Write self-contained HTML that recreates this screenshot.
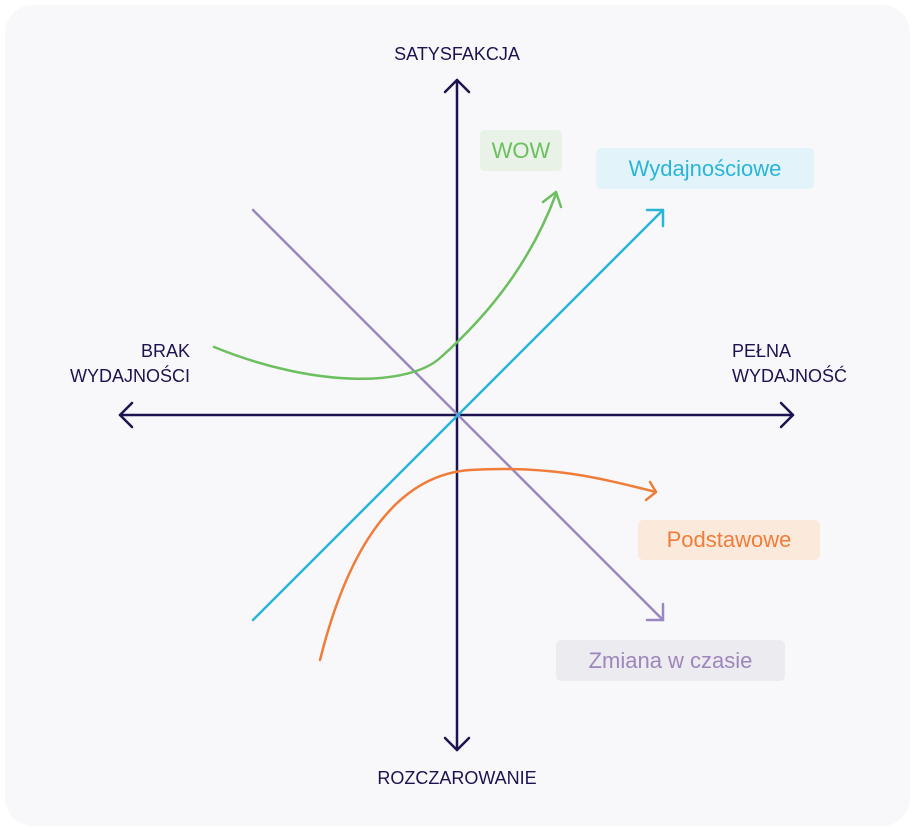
<!DOCTYPE html>
<html><head><style>
html,body{margin:0;padding:0;background:#fff;}
body{width:916px;height:832px;position:relative;overflow:hidden;font-family:"Liberation Sans",sans-serif;}
.card{position:absolute;left:5px;top:5px;width:905px;height:821px;background:#f8f8fa;border-radius:28px;}
.ax{position:absolute;color:#1b1450;font-size:18px;line-height:25px;}
.tag{position:absolute;border-radius:5px;font-size:22px;display:flex;align-items:center;justify-content:center;}
</style></head><body>
<div class="card"></div>
<svg width="916" height="832" style="position:absolute;left:0;top:0" fill="none" stroke-linecap="round" stroke-linejoin="round">
<g stroke="#1b1450" stroke-width="2.5">
<line x1="457" y1="80" x2="457" y2="750"/>
<polyline points="445,92 457,80 469,92"/>
<polyline points="445,738 457,750 469,738"/>
<line x1="120" y1="415" x2="793" y2="415"/>
<polyline points="132,403 120,415 132,427"/>
<polyline points="781,403 793,415 781,427"/>
</g>
<g stroke="#9b87c0" stroke-width="2.5">
<line x1="253" y1="210" x2="663" y2="620"/>
<polyline points="663,604 663,620 647,620"/>
</g>
<g stroke="#29b5d8" stroke-width="2.5">
<line x1="253" y1="620" x2="663" y2="210"/>
<polyline points="647,210 663,210 663,226"/>
</g>
<g stroke="#6cbf5f" stroke-width="2.5">
<path d="M214,347 C320,390 410,385 440,358 C500,305 535,250 556,194"/>
<polyline points="543,202 556,192 561,207"/>
</g>
<g stroke="#f07c3a" stroke-width="2.5">
<path d="M320,660 C350,540 400,475 470,470 C550,465 600,478 656,492"/>
<polyline points="650,482 656,492 646,500"/>
</g>
</svg>
<div class="ax" style="left:380px;top:42px;width:154px;text-align:center;">SATYSFAKCJA</div>
<div class="ax" style="left:346px;top:766px;width:222px;text-align:center;">ROZCZAROWANIE</div>
<div class="ax" style="left:30px;top:339px;width:160px;text-align:right;">BRAK<br>WYDAJNOŚCI</div>
<div class="ax" style="left:732px;top:339px;width:170px;">PEŁNA<br>WYDAJNOŚĆ</div>
<div class="tag" style="left:480px;top:130px;width:82px;height:41px;background:#e8f2e6;color:#6cbf5f;">WOW</div>
<div class="tag" style="left:596px;top:148px;width:218px;height:41px;background:#e3f3fa;color:#29b5d8;">Wydajnościowe</div>
<div class="tag" style="left:638px;top:520px;width:182px;height:40px;background:#fbeadc;color:#f07c3a;">Podstawowe</div>
<div class="tag" style="left:556px;top:640px;width:229px;height:41px;background:#ecebf0;color:#9e86bd;">Zmiana w czasie</div>
</body></html>
